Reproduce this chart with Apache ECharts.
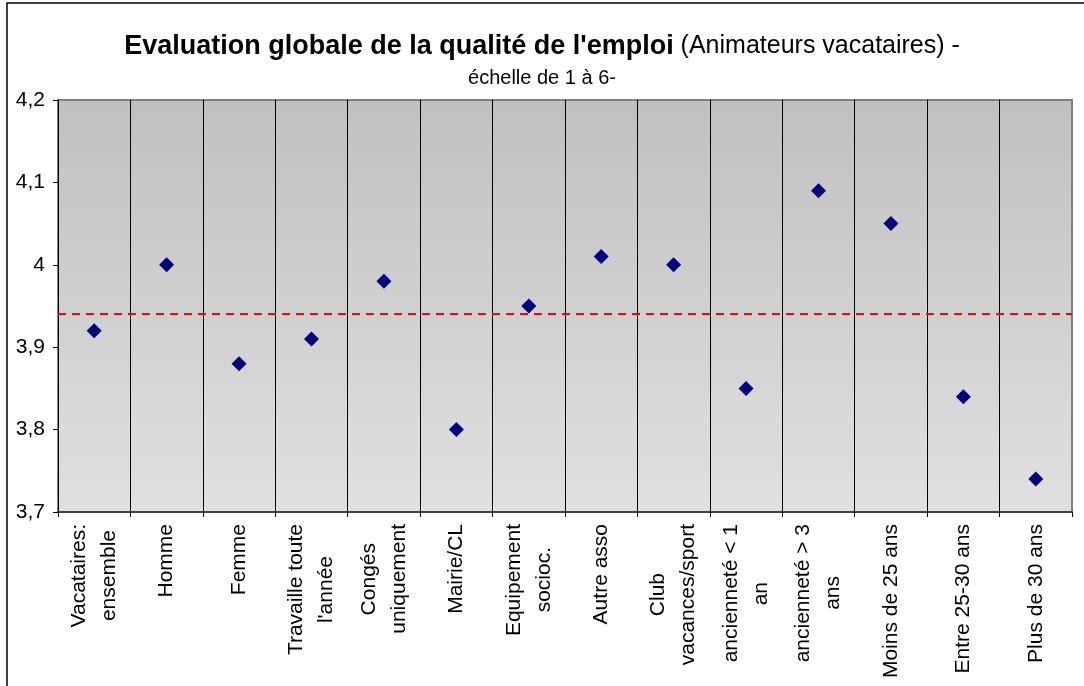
<!DOCTYPE html>
<html>
<head>
<meta charset="utf-8">
<script src="https://cdn.jsdelivr.net/npm/echarts@6/dist/echarts.min.js"></script>
<style>
  html, body { margin: 0; padding: 0; background: #fff; }
  #chart { width: 1084px; height: 686px; }
</style>
</head>
<body>
<div id="chart"></div>
<script>
  // categories (line breaks as in the original axis)
  const categories = [
    'Vacataires:\nensemble', 'Homme', 'Femme', 'Travaille toute\nl\'année',
    'Congés\nuniquement', 'Mairie/CL', 'Equipement\nsocioc.', 'Autre asso',
    'Club\nvacances/sport', 'ancienneté < 1\nan', 'ancienneté > 3\nans',
    'Moins de 25 ans', 'Entre 25-30 ans', 'Plus de 30 ans'
  ];
  const scores = [3.92, 4.00, 3.88, 3.91, 3.98, 3.80, 3.95, 4.01, 4.00, 3.85, 4.09, 4.05, 3.84, 3.74];
  const average = 3.94;
  const yTicks = [3.7, 3.8, 3.9, 4.0, 4.1, 4.2];

  const font = '"Liberation Sans", Arial, sans-serif';
  const labelSize = 21;
  const lineGap = 15;   // half the distance between two label lines
  const plotLeft = 58, plotWidth = 1014, plotTop = 100, plotBottom = 174;

  // one axis per label line (single-line labels, first lines, second lines),
  // the line axes sit in grids moved sideways; padding centres the shorter line
  const ctx = document.createElement('canvas').getContext('2d');
  ctx.font = labelSize + 'px ' + font;
  function lineData(nLines, j) {
    return categories.map(function (c) {
      const lines = c.split('\n');
      if (lines.length !== nLines) return { value: '' };
      const widths = lines.map(function (s) { return ctx.measureText(s).width; });
      const w = Math.max.apply(null, widths);
      const shift = Math.round((w - widths[j]) / 2);
      return { value: lines[j], textStyle: { padding: [0, shift, 0, 0] } };
    });
  }

  // vertical separators: black, the last one (right border) grey
  const sepColors = categories.map(function () { return '#000'; });
  sepColors.push('#808080');

  const labelStyle = {
    interval: 0,
    rotate: 90,
    margin: 12,
    color: '#000',
    fontFamily: font,
    fontSize: labelSize
  };

  function sideGrid(dx) {
    return { left: plotLeft + dx, width: plotWidth, top: plotTop, bottom: plotBottom, outerBoundsMode: 'none', show: false };
  }
  function lineAxis(gridIndex, data) {
    return {
      type: 'category', gridIndex: gridIndex, position: 'bottom', data: data, boundaryGap: true,
      axisLine: { show: false }, axisTick: { show: false }, splitLine: { show: false },
      axisLabel: labelStyle
    };
  }

  let myChart = echarts.init(document.getElementById('chart'));
  let option = {
    animation: false,
    title: {
      left: 'center',
      top: 28,
      itemGap: 8,
      text: '{b|Evaluation globale de la qualité de l\'emploi}{n| (Animateurs vacataires) -}',
      textStyle: {
        fontFamily: font,
        rich: {
          b: { fontFamily: font, fontSize: 27, fontWeight: 'bold', color: '#000' },
          n: { fontFamily: font, fontSize: 25, fontWeight: 'normal', color: '#000' }
        }
      },
      subtext: 'échelle de 1 à 6-',
      subtextStyle: { fontFamily: font, fontSize: 20, color: '#000' }
    },
    graphic: [{
      type: 'rect',
      shape: { x: 7, y: 3, width: 1100, height: 720 },
      style: { fill: 'none', stroke: '#000', lineWidth: 1.5 },
      silent: true
    }],
    grid: [
      {
        left: plotLeft,
        width: plotWidth,
        top: plotTop,
        bottom: plotBottom,
        outerBoundsMode: 'none',
        show: true,
        borderColor: '#808080',
        borderWidth: 2,
        backgroundColor: {
          type: 'linear', x: 0, y: 0, x2: 0, y2: 1,
          colorStops: [{ offset: 0, color: '#c0c0c0' }, { offset: 1, color: '#e0e0e0' }]
        }
      },
      sideGrid(-lineGap),
      sideGrid(lineGap)
    ],
    xAxis: [
      {
        type: 'category',
        gridIndex: 0,
        position: 'bottom',
        data: lineData(1, 0),
        boundaryGap: true,
        axisLine: { lineStyle: { color: '#404040', width: 2 } },
        axisTick: { show: true, length: 5, lineStyle: { color: '#000' } },
        splitLine: { show: true, interval: 0, lineStyle: { color: sepColors, width: 1 } },
        axisLabel: labelStyle
      },
      lineAxis(1, lineData(2, 0)),
      lineAxis(2, lineData(2, 1))
    ],
    yAxis: [
      {
        type: 'value',
        gridIndex: 0,
        min: yTicks[0],
        max: yTicks[yTicks.length - 1],
        interval: 0.1,
        axisLine: { show: true, lineStyle: { color: '#000', width: 1 } },
        axisTick: { show: true, length: 5, lineStyle: { color: '#000' } },
        splitLine: { show: false },
        axisLabel: {
          margin: 13,
          color: '#000',
          fontFamily: font,
          fontSize: 21,
          formatter: function (v) { return String(+v.toFixed(1)).replace('.', ','); }
        }
      },
      { type: 'value', gridIndex: 1, show: false },
      { type: 'value', gridIndex: 2, show: false }
    ],
    series: [{
      type: 'scatter',
      xAxisIndex: 0,
      yAxisIndex: 0,
      data: scores,
      symbol: 'diamond',
      symbolSize: 15,
      itemStyle: { color: '#000080', opacity: 1 },
      z: 5,
      markLine: {
        silent: true,
        symbol: 'none',
        label: { show: false },
        lineStyle: { color: '#ff0000', type: [8, 6], width: 2, opacity: 1 },
        data: [{ yAxis: average }]
      }
    }]
  };
  myChart.setOption(option);
  window.addEventListener('resize', function () { myChart.resize(); });
</script>
</body>
</html>
